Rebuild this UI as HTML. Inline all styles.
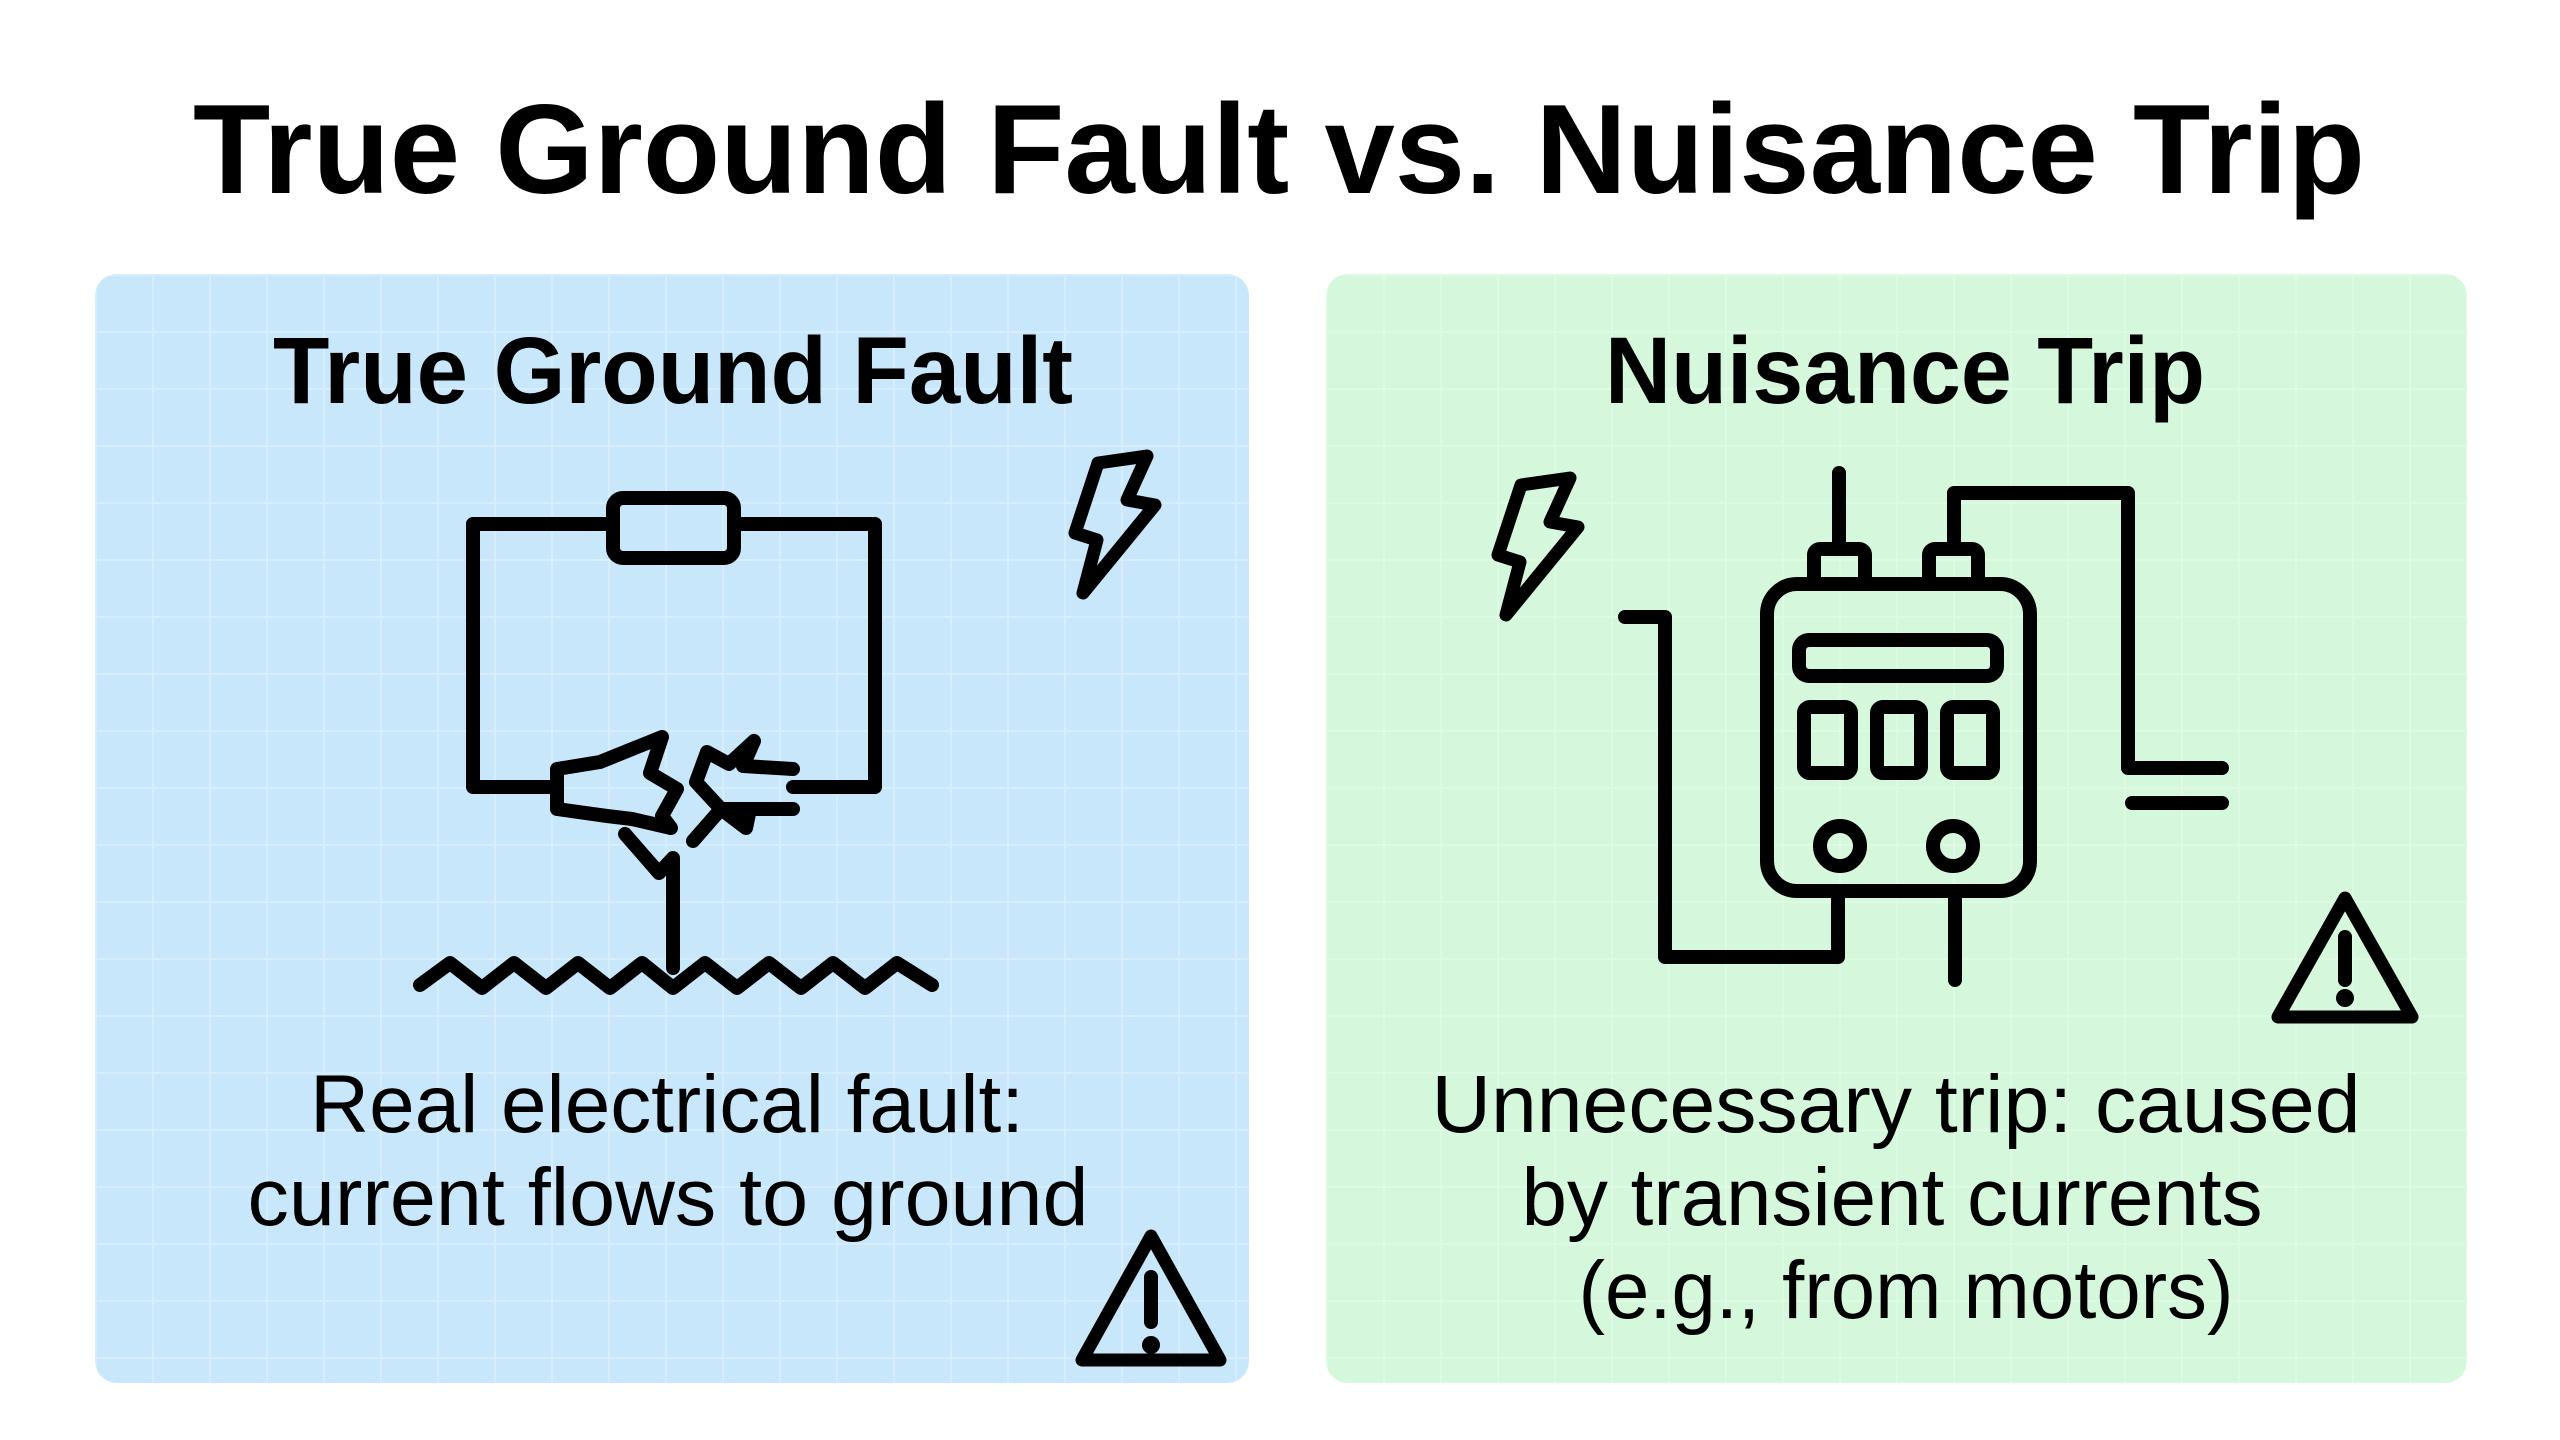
<!DOCTYPE html>
<html><head><meta charset="utf-8"><style>
html,body{margin:0;padding:0;background:#fff;}
svg{display:block;}
text{font-family:"Liberation Sans",Arial,sans-serif;fill:#000;}
</style></head><body>
<svg width="2560" height="1440" viewBox="0 0 2560 1440" xmlns="http://www.w3.org/2000/svg">
<defs>
<pattern id="gb" x="95" y="274" width="57" height="57" patternUnits="userSpaceOnUse">
<rect width="57" height="57" fill="#c9e7fb"/>
<path d="M0 0.5H57M0.5 0V57" stroke="#d6edfc" stroke-width="3" fill="none"/>
</pattern>
<pattern id="gg" x="1326" y="274" width="57" height="57" patternUnits="userSpaceOnUse">
<rect width="57" height="57" fill="#d5f7dc"/>
<path d="M0 0.5H57M0.5 0V57" stroke="#dffae4" stroke-width="3" fill="none"/>
</pattern>
</defs>
<rect width="2560" height="1440" fill="#fff"/>
<text x="1279" y="193" font-size="127" font-weight="bold" text-anchor="middle" textLength="2172" lengthAdjust="spacingAndGlyphs">True Ground Fault vs. Nuisance Trip</text>

<rect x="95" y="274" width="1154" height="1109" rx="22" fill="url(#gb)"/>
<rect x="1326" y="274" width="1141" height="1109" rx="22" fill="url(#gg)"/>

<text x="673" y="403" font-size="95" font-weight="bold" text-anchor="middle" textLength="800" lengthAdjust="spacingAndGlyphs">True Ground Fault</text>
<text x="1905" y="403" font-size="95" font-weight="bold" text-anchor="middle" textLength="600" lengthAdjust="spacingAndGlyphs">Nuisance Trip</text>

<g fill="none" stroke="#000" stroke-width="14" stroke-linejoin="round" stroke-linecap="round">
<!-- left circuit -->
<path d="M613 524 H473 V787 H557"/>
<path d="M734 524 H875 V787 H793"/>
<rect x="613" y="498" width="121" height="60" rx="10"/>
<g transform="translate(0,-12)">
<path d="M600 774 L662 749 L650 785 L677 801 L662 828 L671 840 L632 831 L607 828 L557 821 L557 781 Z"/>
<path d="M793 781 L743 778 L754 753 L729 776 L707 764 L696 794 L721 821 L693 853"/>
<path d="M721 821 L746 840 L750 821 L793 821 Z"/>
<path d="M625 846 L659 885 L673 870 V980"/>
</g>
<path d="M420 985 L450 963 L482 988 L514 963 L546 988 L578 963 L610 988 L642 963 L673 988 L705 963 L737 988 L769 963 L801 988 L833 963 L865 988 L897 963 L932 985"/>
<!-- left bolt -->
<path d="M1098 463 L1147 456 L1127 500 L1155 505 L1083 593 L1097 540 L1075 533 Z" stroke-width="13"/>
<!-- right bolt -->
<path d="M1521 485 L1570 478 L1550 522 L1578 527 L1506 615 L1520 562 L1498 555 Z" stroke-width="13"/>
<!-- left warning -->
<path d="M1151 1236 L1082 1360 L1220 1360 Z" stroke-width="13"/>
<path d="M1151 1277 V1322" stroke-width="14"/>
<!-- right warning -->
<path d="M2345 898 L2278 1017 L2412 1017 Z" stroke-width="13"/>
<path d="M2345 937 V980" stroke-width="14"/>
<!-- device -->
<rect x="1767" y="584" width="263" height="307" rx="30"/>
<rect x="1799" y="640" width="198" height="36" rx="10"/>
<rect x="1804" y="707" width="47" height="66" rx="6"/>
<rect x="1877" y="707" width="44" height="66" rx="6"/>
<rect x="1947" y="707" width="46" height="66" rx="6"/>
<circle cx="1840" cy="846" r="20"/>
<circle cx="1953" cy="846" r="20"/>
<rect x="1814" y="549" width="51" height="35" rx="6"/>
<rect x="1929" y="549" width="49" height="35" rx="6"/>
<path d="M1839 473 V549"/>
<path d="M1954 549 V493 H2128 V768 H2222"/>
<path d="M2132 803 H2222"/>
<path d="M1625 617 H1665 V957 H1838 V898"/>
<path d="M1955 898 V980"/>
</g>
<circle cx="1151" cy="1345" r="9" fill="#000"/>
<circle cx="2345" cy="998" r="9" fill="#000"/>

<text x="667" y="1132" font-size="82" text-anchor="middle" textLength="714" lengthAdjust="spacingAndGlyphs">Real electrical fault:</text>
<text x="668" y="1225" font-size="82" text-anchor="middle" textLength="841" lengthAdjust="spacingAndGlyphs">current flows to ground</text>
<text x="1896" y="1132" font-size="82" text-anchor="middle" textLength="929" lengthAdjust="spacingAndGlyphs">Unnecessary trip: caused</text>
<text x="1892" y="1225" font-size="82" text-anchor="middle" textLength="741" lengthAdjust="spacingAndGlyphs">by transient currents</text>
<text x="1906" y="1318" font-size="82" text-anchor="middle" textLength="655" lengthAdjust="spacingAndGlyphs">(e.g., from motors)</text>
</svg>
</body></html>
